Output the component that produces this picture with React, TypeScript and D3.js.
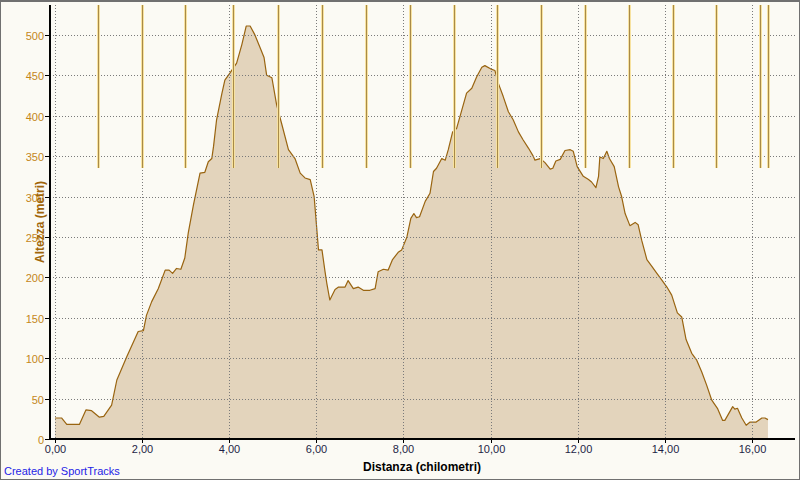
import { useEffect, useRef } from 'react';
import * as d3 from 'd3';

// elevation profile: distance (km) and altitude (m)
const distanceKm = [
  0, 0.15, 0.27, 0.56, 0.71, 0.84, 1.02, 1.12, 1.3, 1.42, 1.65, 1.91, 2.03, 2.1, 2.22, 2.37, 2.53, 2.62, 2.7,
  2.79, 2.89, 2.98, 3.06, 3.18, 3.33, 3.44, 3.52, 3.6, 3.64, 3.71, 3.83, 3.9, 4.02, 4.17, 4.29, 4.39, 4.48,
  4.59, 4.71, 4.8, 4.86, 4.98, 5.09, 5.2, 5.36, 5.51, 5.63, 5.74, 5.86, 5.95, 6.05, 6.13, 6.2, 6.24, 6.31,
  6.43, 6.51, 6.66, 6.73, 6.85, 6.96, 7.08, 7.23, 7.35, 7.42, 7.54, 7.65, 7.75, 7.88, 7.96, 8.08, 8.17,
  8.24, 8.3, 8.37, 8.5, 8.61, 8.69, 8.76, 8.88, 8.96, 9.03, 9.13, 9.22, 9.34, 9.45, 9.57, 9.68, 9.8, 9.87,
  10.0, 10.1, 10.18, 10.29, 10.41, 10.52, 10.64, 10.75, 10.87, 10.98, 11.02, 11.14, 11.25, 11.37, 11.43,
  11.5, 11.6, 11.71, 11.83, 11.9, 11.99, 12.13, 12.25, 12.32, 12.42, 12.48, 12.51, 12.59, 12.67, 12.73,
  12.84, 12.94, 13.01, 13.09, 13.2, 13.32, 13.39, 13.47, 13.59, 13.7, 13.82, 13.93, 14.05, 14.16, 14.29,
  14.39, 14.49, 14.62, 14.73, 14.85, 14.96, 15.08, 15.21, 15.33, 15.38, 15.56, 15.61, 15.67, 15.77, 15.87,
  15.96, 16.1, 16.23, 16.3, 16.37,
];
const altitudeM = [
  26, 26, 18, 18, 36, 35, 27, 28, 42, 73, 102, 133, 134, 153, 170, 186, 209, 209, 205,
  211, 210, 224, 255, 290, 329, 330, 343, 347, 362, 395, 427, 444, 453, 465, 488, 511, 511,
  500, 484, 472, 450, 447, 413, 391, 358, 347, 329, 323, 321, 300, 234, 234, 207, 193, 172,
  185, 188, 188, 196, 186, 188, 184, 184, 186, 207, 210, 209, 222, 231, 234, 250, 273,
  279, 274, 275, 294, 304, 331, 335, 347, 345, 358, 380, 384, 407, 428, 434, 448, 460, 462,
  458, 456, 440, 424, 405, 395, 380, 370, 360, 350, 345, 347, 342, 334, 335,
  344, 346, 357, 358, 356, 337, 325, 321, 318, 311, 325, 349, 347, 356, 347,
  337, 312, 300, 279, 264, 268, 265, 246, 222, 214, 205, 197, 188, 178, 156,
  151, 123, 106, 98, 83, 67, 48, 38, 23, 23, 40, 37, 38, 26, 17,
  21, 21, 26, 26, 24,
];

// lap markers (km)
const lapKm = [0.99, 2.0, 2.99, 4.09, 5.12, 6.13, 7.14, 8.15, 9.16, 10.15, 11.16, 12.17, 13.18, 14.19, 15.18, 16.19, 16.37];

const xTicks = [0, 2, 4, 6, 8, 10, 12, 14, 16];
const yTicks = [0, 50, 100, 150, 200, 250, 300, 350, 400, 450, 500];

export default function App() {
  const svgRef = useRef<SVGSVGElement>(null);

  useEffect(() => {
    if (!svgRef.current) return;
    const svg = d3.select(svgRef.current);
    svg.selectAll('*').remove();

    const W = 800;
    const H = 480;
    const left = 50;
    const right = 795;
    const top = 5;
    const bottom = 439;

    const x = d3.scaleLinear().domain([0, 17]).range([55, 795.4]);
    const y = d3.scaleLinear().domain([0, 537]).range([bottom, top]);

    svg.append('rect').attr('width', W).attr('height', H).attr('fill', '#fbfaf4');
    // frame
    svg.append('rect')
      .attr('x', 0.5).attr('y', 0.5).attr('width', W - 1).attr('height', H - 1)
      .attr('fill', 'none').attr('stroke', '#707070').attr('stroke-width', 1);
    svg.append('line').attr('x1', 0).attr('x2', W).attr('y1', 1.5).attr('y2', 1.5)
      .attr('stroke', '#707070');

    const pts: [number, number][] = distanceKm.map((d, i) => [d, altitudeM[i]]);

    const area = d3.area<[number, number]>()
      .x(d => x(d[0]))
      .y0(bottom)
      .y1(d => y(d[1]));
    const line = d3.line<[number, number]>()
      .x(d => x(d[0]))
      .y(d => y(d[1]));

    svg.append('path').datum(pts).attr('d', area).attr('fill', '#e3d4bc');
    svg.append('path').datum(pts).attr('d', line)
      .attr('fill', 'none').attr('stroke', '#996410').attr('stroke-width', 1.2)
      .attr('stroke-linejoin', 'round');

    // dotted grid
    const grid = svg.append('g').attr('stroke', '#7a7a7a').attr('stroke-width', 1)
      .attr('stroke-dasharray', '1,2').attr('shape-rendering', 'crispEdges');
    grid.selectAll('.hg').data(yTicks.filter(v => v > 0)).enter().append('line')
      .attr('x1', left).attr('x2', right)
      .attr('y1', d => Math.round(y(d)) + 0.5).attr('y2', d => Math.round(y(d)) + 0.5);
    grid.selectAll('.vg').data(xTicks).enter().append('line')
      .attr('y1', top).attr('y2', bottom)
      .attr('x1', d => Math.round(x(d)) + 0.5).attr('x2', d => Math.round(x(d)) + 0.5);

    // lap markers
    const laps = svg.append('g').attr('shape-rendering', 'crispEdges');
    lapKm.forEach(k => {
      const px = Math.round(x(k)) + 0.5;
      laps.append('line').attr('x1', px).attr('x2', px).attr('y1', top).attr('y2', 168)
        .attr('stroke', '#f7e2a0').attr('stroke-width', 3);
      laps.append('line').attr('x1', px).attr('x2', px).attr('y1', top).attr('y2', 168)
        .attr('stroke', '#a88a48').attr('stroke-width', 1);
    });

    // axes
    const axis = svg.append('g').attr('shape-rendering', 'crispEdges');
    axis.append('line').attr('x1', left).attr('x2', left).attr('y1', top).attr('y2', bottom + 1)
      .attr('stroke', '#000').attr('stroke-width', 2);
    axis.append('line').attr('x1', left - 1).attr('x2', right).attr('y1', bottom).attr('y2', bottom)
      .attr('stroke', '#000').attr('stroke-width', 2);
    yTicks.forEach(v => {
      const py = Math.round(y(v)) + 0.5;
      axis.append('line').attr('x1', 45).attr('x2', left).attr('y1', py).attr('y2', py)
        .attr('stroke', '#000');
      svg.append('text').attr('x', 44).attr('y', py + 4).attr('text-anchor', 'end')
        .attr('font-family', 'Liberation Sans, Arial, sans-serif').attr('font-size', 11)
        .attr('fill', '#c4861a').text(v);
    });
    xTicks.forEach(v => {
      const px = Math.round(x(v)) + 0.5;
      axis.append('line').attr('x1', px).attr('x2', px).attr('y1', bottom).attr('y2', bottom + 4)
        .attr('stroke', '#000');
      svg.append('text').attr('x', px).attr('y', 453).attr('text-anchor', 'middle')
        .attr('font-family', 'Liberation Sans, Arial, sans-serif').attr('font-size', 11)
        .attr('fill', '#1e1e46').text(d3.format('.2f')(v).replace('.', ','));
    });

    svg.append('text').attr('x', 422).attr('y', 471).attr('text-anchor', 'middle')
      .attr('font-family', 'Liberation Sans, Arial, sans-serif').attr('font-size', 12)
      .attr('font-weight', 'bold').attr('fill', '#000').text('Distanza (chilometri)');
    svg.append('text').attr('transform', 'translate(44,222) rotate(-90)').attr('text-anchor', 'middle')
      .attr('font-family', 'Liberation Sans, Arial, sans-serif').attr('font-size', 12)
      .attr('font-weight', 'bold').attr('fill', '#a0650a').text('Altezza (metri)');
    svg.append('text').attr('x', 4).attr('y', 475)
      .attr('font-family', 'Liberation Sans, Arial, sans-serif').attr('font-size', 11)
      .attr('fill', '#2424e6').text('Created by SportTracks');
  }, []);

  return (
    <svg
      ref={svgRef}
      width={800}
      height={480}
      style={{ position: 'absolute', left: 0, top: 0, display: 'block' }}
    ></svg>
  );
}
